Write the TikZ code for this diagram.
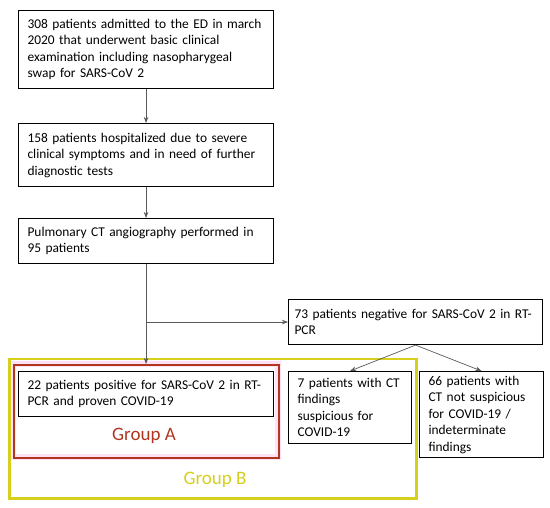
\documentclass[tikz,border=0pt]{standalone}
\usepackage{fontspec}
\setmainfont{Carlito}
\usetikzlibrary{positioning,arrows.meta}
\definecolor{grpred}{HTML}{B0361F}
\definecolor{grpyellow}{HTML}{D6CF1C}
\definecolor{haze}{HTML}{FFE2F3}

\begin{document}
\begin{tikzpicture}[>=Stealth, x=1pt, y=-1pt,
    box/.style={draw, line width=1.1pt, anchor=north west, align=left,
      inner xsep=9pt, inner ysep=4pt, font=\fontsize{13.4}{16.5}\selectfont},
    flow/.style={->, line width=0.7pt, draw=black!65},
    grouplabel/.style={font=\fontsize{19}{22}\selectfont}]
    \useasboundingbox (0,0) rectangle (550,508);

    % groups
    \draw[haze, line width=6pt] (13,364) rectangle (278,457);
    \node[draw=grpyellow, line width=2.5pt, anchor=north west, inner sep=0pt,
      minimum width=407pt, minimum height=139pt] (groupB) at (8,358) {};
    \node[draw=grpred, line width=2.4pt, anchor=north west, inner sep=0pt,
      minimum width=265pt, minimum height=93pt] (groupA) at (13,364) {};

    % flow boxes
    \node[box, text width=237pt, minimum height=78pt] (adm) at (18,10)
      {308 patients admitted to the ED in march\\2020 that underwent basic clinical\\examination including nasopharygeal\\swap for SARS-CoV 2};
    \node[box, text width=237pt, minimum height=63pt] (hosp) at (18,123)
      {158 patients hospitalized due to severe\\clinical symptoms and in need of further\\diagnostic tests};
    \node[box, text width=237pt, minimum height=45pt] (cta) at (18,218)
      {Pulmonary CT angiography performed in\\95 patients};
    \node[box, text width=242pt, inner xsep=6pt, minimum height=45pt] (neg) at (288,299)
      {73 patients negative for SARS-CoV 2 in RT-\\PCR};
    \node[box, text width=237pt, minimum height=45pt] (pos) at (18,371)
      {22 patients positive for SARS-CoV 2 in RT-\\PCR and proven COVID-19};
    \node[box, text width=105pt, minimum height=72pt] (susp) at (288,371)
      {7 patients with CT\\findings\\suspicious for\\COVID-19};
    \node[box, text width=106pt, minimum height=86pt] (nonsusp) at (419,371)
      {66 patients with\\CT not suspicious\\for COVID-19 /\\indeterminate\\findings};

    \node[grouplabel, text=grpred] (labA) at (144,436) {Group A};
    \node[grouplabel, text=grpyellow] (labB) at (215,480) {Group B};

    % connectors
    \draw[flow] (adm) -- (hosp);
    \draw[flow] (hosp) -- (cta);
    \draw[flow] (cta.south) -- (cta.south |- groupA.north);
    \coordinate (split) at (cta.south |- neg.west);
    \draw[flow] (split) -- (neg.west);
    \draw[flow] (neg.south) -- (susp.north);
    \draw[flow] (neg.south) -- (nonsusp.north);
\end{tikzpicture}
\end{document}
